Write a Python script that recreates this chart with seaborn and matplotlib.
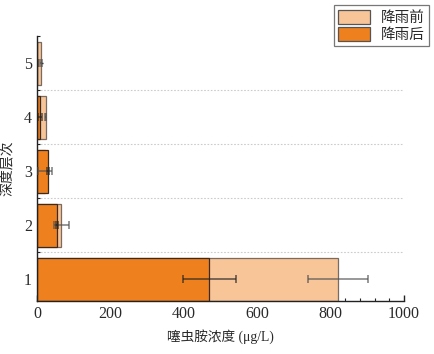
import matplotlib
matplotlib.use("Agg")
import matplotlib.pyplot as plt
import seaborn as sns
import numpy as np
import pandas as pd
from matplotlib.ticker import MultipleLocator, FixedLocator
from matplotlib.patches import Patch

levels = [1, 2, 3, 4, 5]
before = [821, 67, 22, 24, 12]
before_err = [82, 20, 19, 2, 3]
after = [470, 55, 31, 8, 1]
after_err = [71, 3, 3, 5, 2]
series_names = ["降雨前", "降雨后"]
xlabel = "噻虫胺浓度 (μg/L)"
ylabel = "深度层次"

sns.set_theme(style="white")
plt.rcParams['font.family'] = ['Liberation Serif', 'Noto Sans CJK SC', 'DejaVu Sans']
plt.rcParams['axes.unicode_minus'] = False

light = "#F7C598"
dark = "#EF801E"
txt = "#2a2a2a"

fig = plt.figure(figsize=(4.34, 3.54), dpi=100)
ax = fig.add_axes([0.085, 0.150, 0.846, 0.748])

df = pd.DataFrame({"level": levels, "before": before, "after": after})

sns.barplot(data=df, x="before", y="level", orient="h", native_scale=True,
            width=0.8, color=light, saturation=1, edgecolor="#7a6a60",
            linewidth=0.9, errorbar=None, ax=ax)
sns.barplot(data=df, x="after", y="level", orient="h", native_scale=True,
            width=0.8, color=dark, saturation=1, edgecolor="#3a2a20",
            linewidth=0.9, errorbar=None, ax=ax)
ax.errorbar(before, levels, xerr=before_err, fmt="none", ecolor="#505050",
            elinewidth=1.1, capsize=3, capthick=1.1, alpha=0.75, zorder=5)
ax.errorbar(after, levels, xerr=after_err, fmt="none", ecolor="#222222",
            elinewidth=1.1, capsize=3, capthick=1.1, alpha=0.75, zorder=6)

ax.set_xlim(0, 1000)
ax.set_ylim(0.6, 5.5)
ax.set_yticks(levels)
ax.set_yticklabels([str(v) for v in levels])
ax.xaxis.set_major_locator(MultipleLocator(200))
ax.xaxis.set_minor_locator(MultipleLocator(40))
ax.yaxis.set_minor_locator(FixedLocator([1.5, 2.5, 3.5, 4.5, 5.5]))

for s in ["top", "right"]:
    ax.spines[s].set_visible(False)
for s in ["left", "bottom"]:
    ax.spines[s].set_color("#222222")
    ax.spines[s].set_linewidth(1.0)

ax.tick_params(axis="both", which="major", direction="in", length=4, width=1,
               color="#222222", labelsize=11.5, labelcolor=txt, left=True, bottom=True)
ax.tick_params(axis="both", which="minor", direction="in", length=2.5, width=0.8,
               color="#222222", left=True, bottom=True)

for yv in [1.5, 2.5, 3.5, 4.5]:
    ax.axhline(yv, color="#cccccc", linestyle=(0, (1.5, 1.5)), linewidth=0.8, zorder=0)

ax.set_xlabel(xlabel, fontsize=9.8, color=txt, labelpad=5)
ax.set_ylabel(ylabel, fontsize=10, color=txt, labelpad=7)

handles = [Patch(facecolor=light, edgecolor="#555555", linewidth=0.9),
           Patch(facecolor=dark, edgecolor="#555555", linewidth=0.9)]
leg = fig.legend(handles, series_names, loc="upper right",
                 bbox_to_anchor=(0.988, 0.985), frameon=True, fancybox=False,
                 fontsize=10.5, handlelength=2.2, handleheight=1.1,
                 handletextpad=0.7, borderpad=0.3, labelspacing=0.15,
                 borderaxespad=0)
leg.get_frame().set_edgecolor("#555555")
leg.get_frame().set_linewidth(0.9)
for t in leg.get_texts():
    t.set_color(txt)

fig.savefig("out.png", dpi=100, facecolor="white")
